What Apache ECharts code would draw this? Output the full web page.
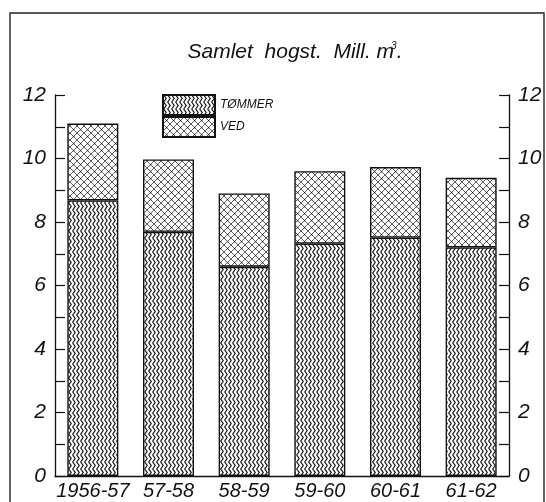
<!DOCTYPE html>
<html>
<head>
<meta charset="utf-8">
<script src="https://cdn.jsdelivr.net/npm/echarts@6/dist/echarts.min.js"></script>
<style>
  html, body { margin: 0; padding: 0; background: #fff; }
  #chart { width: 546px; height: 502px; }
</style>
</head>
<body>
<div id="chart"></div>
<script>
// hogstår
const years = ['1956-57', '57-58', '58-59', '59-60', '60-61', '61-62']
// mill. m³
const tommer = [8.68, 7.69, 6.59, 7.32, 7.51, 7.20]
const ved = [2.42, 2.28, 2.31, 2.28, 2.22, 2.19]

const font = '"Liberation Sans", sans-serif'

// sikksakk-mønster for tømmer
const makeZigzag = () => {
  const c = document.createElement('canvas')
  c.width = 4; c.height = 7
  const g = c.getContext('2d')
  g.fillStyle = '#fff'
  g.fillRect(0, 0, 4, 7)
  g.strokeStyle = '#111'
  g.lineWidth = 1.2
  g.beginPath()
  g.moveTo(0.6, 0); g.lineTo(3.2, 3.5); g.lineTo(0.6, 7)
  g.stroke()
  return c
}

// kryssravering for ved
const makeCross = () => {
  const c = document.createElement('canvas')
  c.width = 7; c.height = 7
  const g = c.getContext('2d')
  g.fillStyle = '#fff'
  g.fillRect(0, 0, 7, 7)
  g.strokeStyle = '#333'
  g.lineWidth = 0.8
  g.beginPath()
  g.moveTo(0, 0); g.lineTo(7, 7)
  g.moveTo(7, 0); g.lineTo(0, 7)
  g.stroke()
  g.fillStyle = '#111'
  g.fillRect(3, 3, 1.2, 1.2)
  return c
}

const chart = echarts.init(document.getElementById('chart'))

const yAxisBase = {
  type: 'value',
  min: 0, max: 12, interval: 2,
  axisLine: { show: true, lineStyle: { color: '#111', width: 1.3 } },
  axisTick: { show: true, inside: true, length: 10, lineStyle: { color: '#111', width: 1.2 } },
  minorTick: { show: true, splitNumber: 2, length: 10, lineStyle: { color: '#111', width: 1.2 } },
  splitLine: { show: false },
  axisLabel: { fontFamily: font, fontStyle: 'italic', fontSize: 21, color: '#111', margin: 9 }
}

chart.setOption({
  animation: false,
  title: {
    text: 'Samlet  hogst.  Mill. m{s|3}.',
    left: 290, top: 36, textAlign: 'center',
    textStyle: {
      fontFamily: font, fontStyle: 'italic', fontWeight: 'normal', fontSize: 21, color: '#111',
      rich: { s: { fontSize: 10, verticalAlign: 'top', padding: [0, 0, 12, -3], fontStyle: 'italic', fontFamily: font } }
    }
  },
  legend: {
    left: 157, top: 89,
    orient: 'vertical',
    itemWidth: 52, itemHeight: 20, itemGap: 0,
    itemTextGap: 8,
    icon: 'rect',
    data: ['TØMMER', 'VED'],
    textStyle: { fontFamily: font, fontStyle: 'italic', fontSize: 12, color: '#111' }
  },
  grid: { left: 55, right: 37, top: 95, bottom: 26 },
  xAxis: {
    type: 'category',
    data: years,
    axisLine: { show: true, lineStyle: { color: '#111', width: 1.3 } },
    axisTick: { show: false },
    axisLabel: { interval: 0, fontFamily: font, fontStyle: 'italic', fontSize: 20, color: '#111', margin: 5 }
  },
  yAxis: [
    Object.assign({}, yAxisBase, { position: 'left' }),
    Object.assign({}, yAxisBase, { position: 'right' })
  ],
  graphic: [{
    type: 'rect',
    shape: { x: 10, y: 13, width: 534, height: 500 },
    style: { fill: 'none', stroke: '#222', lineWidth: 1.4 },
    silent: true
  }],
  series: [
    {
      name: 'TØMMER', type: 'bar', stack: 'hogst', barWidth: 51,
      data: tommer,
      itemStyle: { color: { image: makeZigzag(), repeat: 'repeat' }, borderColor: '#111', borderWidth: 1.4 }
    },
    {
      name: 'VED', type: 'bar', stack: 'hogst', barWidth: 51,
      data: ved,
      itemStyle: { color: { image: makeCross(), repeat: 'repeat' }, borderColor: '#111', borderWidth: 1.4 }
    }
  ]
})
</script>
</body>
</html>
